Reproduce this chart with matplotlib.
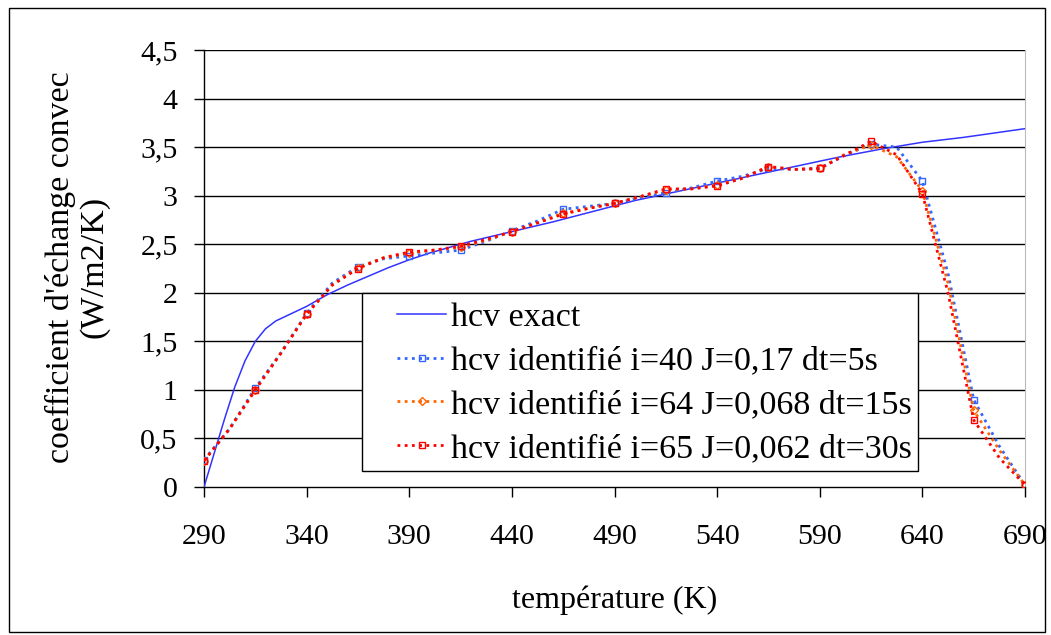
import matplotlib
matplotlib.use("Agg")
import matplotlib.pyplot as plt
from matplotlib.patches import Rectangle

plt.rcParams['font.family'] = ['Liberation Serif', 'DejaVu Serif']

# hcv exact
T_exact = [290, 295, 300, 305, 310, 315, 320, 325, 330, 340, 350, 360, 370, 380,
           390, 400, 420, 440, 460, 480, 500, 520, 540, 560, 580, 600, 620, 640,
           660, 690]
h_exact = [0.0, 0.35, 0.7, 1.03, 1.3, 1.5, 1.63, 1.71, 1.76, 1.86, 1.98, 2.08,
           2.17, 2.26, 2.34, 2.41, 2.53, 2.63, 2.73, 2.84, 2.95, 3.04, 3.13,
           3.22, 3.31, 3.40, 3.48, 3.55, 3.60, 3.69]

# identified series (marker every second point)
T_id = [290, 302.5, 315, 327.5, 340, 352.5, 365, 377.5, 390, 402.5, 415, 427.5,
        440, 452.5, 465, 477.5, 490, 502.5, 515, 527.5, 540, 552.5, 565, 577.5,
        590, 602.5, 615, 627.5, 640, 652.5, 665, 677.5, 690]
h_i40 = [0.28, 0.6, 1.02, 1.38, 1.79, 2.1, 2.27, 2.35, 2.38, 2.41, 2.44, 2.53,
         2.64, 2.74, 2.86, 2.89, 2.92, 2.98, 3.03, 3.08, 3.15, 3.2, 3.28, 3.27,
         3.28, 3.42, 3.53, 3.5, 3.15, 2.2, 0.9, 0.42, 0.02]
h_i64 = [0.27, 0.6, 1.0, 1.38, 1.78, 2.08, 2.26, 2.36, 2.41, 2.44, 2.47, 2.54,
         2.63, 2.72, 2.82, 2.87, 2.92, 2.99, 3.06, 3.07, 3.11, 3.18, 3.3, 3.27,
         3.28, 3.43, 3.52, 3.4, 3.05, 2.1, 0.79, 0.38, 0.02]
h_i65 = [0.27, 0.6, 1.0, 1.38, 1.78, 2.08, 2.25, 2.36, 2.42, 2.44, 2.48, 2.55,
         2.63, 2.72, 2.81, 2.87, 2.92, 2.99, 3.07, 3.07, 3.10, 3.18, 3.30, 3.27,
         3.28, 3.42, 3.56, 3.42, 3.02, 2.0, 0.69, 0.3, 0.02]

x_ticks = [290, 340, 390, 440, 490, 540, 590, 640, 690]
y_ticks = [0, 0.5, 1, 1.5, 2, 2.5, 3, 3.5, 4, 4.5]
y_labels = ['0', '0,5', '1', '1,5', '2', '2,5', '3', '3,5', '4', '4,5']

W, H = 1051, 635
fig = plt.figure(figsize=(W / 100, H / 100), dpi=100)
ax = fig.add_axes([204 / W, 1 - 487 / H, 821 / W, 437 / H])

for y in y_ticks[1:]:
    ax.axhline(y, color='black', lw=1, zorder=1)

dots = (0, (1, 1.6))
ax.plot(T_exact, h_exact, color='#3333ff', lw=1.1, label='hcv exact', zorder=3)
ax.plot(T_id, h_i40, color='#3366ff', lw=2, ls=dots, marker='s', ms=5,
        mfc='none', mew=1, markevery=2, label='hcv identifié i=40 J=0,17 dt=5s',
        zorder=4)
ax.plot(T_id, h_i64, color='#ff6600', lw=2, ls=dots, marker='D', ms=4.5,
        mfc='none', mew=1, markevery=2,
        label='hcv identifié i=64 J=0,068 dt=15s', zorder=5)
ax.plot(T_id, h_i65, color='#ff0000', lw=2, ls=dots, marker='s', ms=5,
        mfc='none', mew=1, markevery=2,
        label='hcv identifié i=65 J=0,062 dt=30s', zorder=6)

ax.set_xlim(290, 690)
ax.set_ylim(0, 4.5)
ax.set_xticks(x_ticks)
ax.set_xticklabels([str(t) for t in x_ticks])
ax.set_yticks(y_ticks)
ax.set_yticklabels(y_labels)
ax.tick_params(axis='both', labelsize=21.5, direction='out', length=7,
               width=1, color='black')
ax.tick_params(axis='x', pad=20)
ax.tick_params(axis='y', pad=12)
ax.spines['top'].set_visible(False)
ax.spines['right'].set_color('#bbbbbb')
for s in ('left', 'bottom'):
    ax.spines[s].set_linewidth(1)
ax.set_xlabel('température (K)', fontsize=23, labelpad=25)

fig.text(60 / W, 1 - 463 / H, "coefficient d'échange convec", rotation=90,
         fontsize=24.5, ha='center', va='bottom')
fig.text(94 / W, 1 - 267 / H, '(W/m2/K)', rotation=90,
         fontsize=24.5, ha='center', va='center')

# legend frame drawn separately (wide left margin, tight right margin)
ax.add_patch(Rectangle((362 / W, 1 - 471 / H), 556 / W, 178 / H,
                       transform=fig.transFigure, facecolor='white',
                       edgecolor='black', lw=1, zorder=7, clip_on=False))
leg = ax.legend(loc='upper left', bbox_to_anchor=(397 / W, 1 - 302 / H),
                bbox_transform=fig.transFigure, fontsize=24.5, frameon=False,
                borderaxespad=0, borderpad=0, handlelength=1.45,
                handletextpad=0.15, labelspacing=0.38)
leg.set_zorder(8)

fig.patches.append(Rectangle((9 / W, 1 - 632 / H), 1036 / W, 624 / H,
                             transform=fig.transFigure, fill=False,
                             edgecolor='black', lw=1))

fig.savefig('out.png', dpi=100)
